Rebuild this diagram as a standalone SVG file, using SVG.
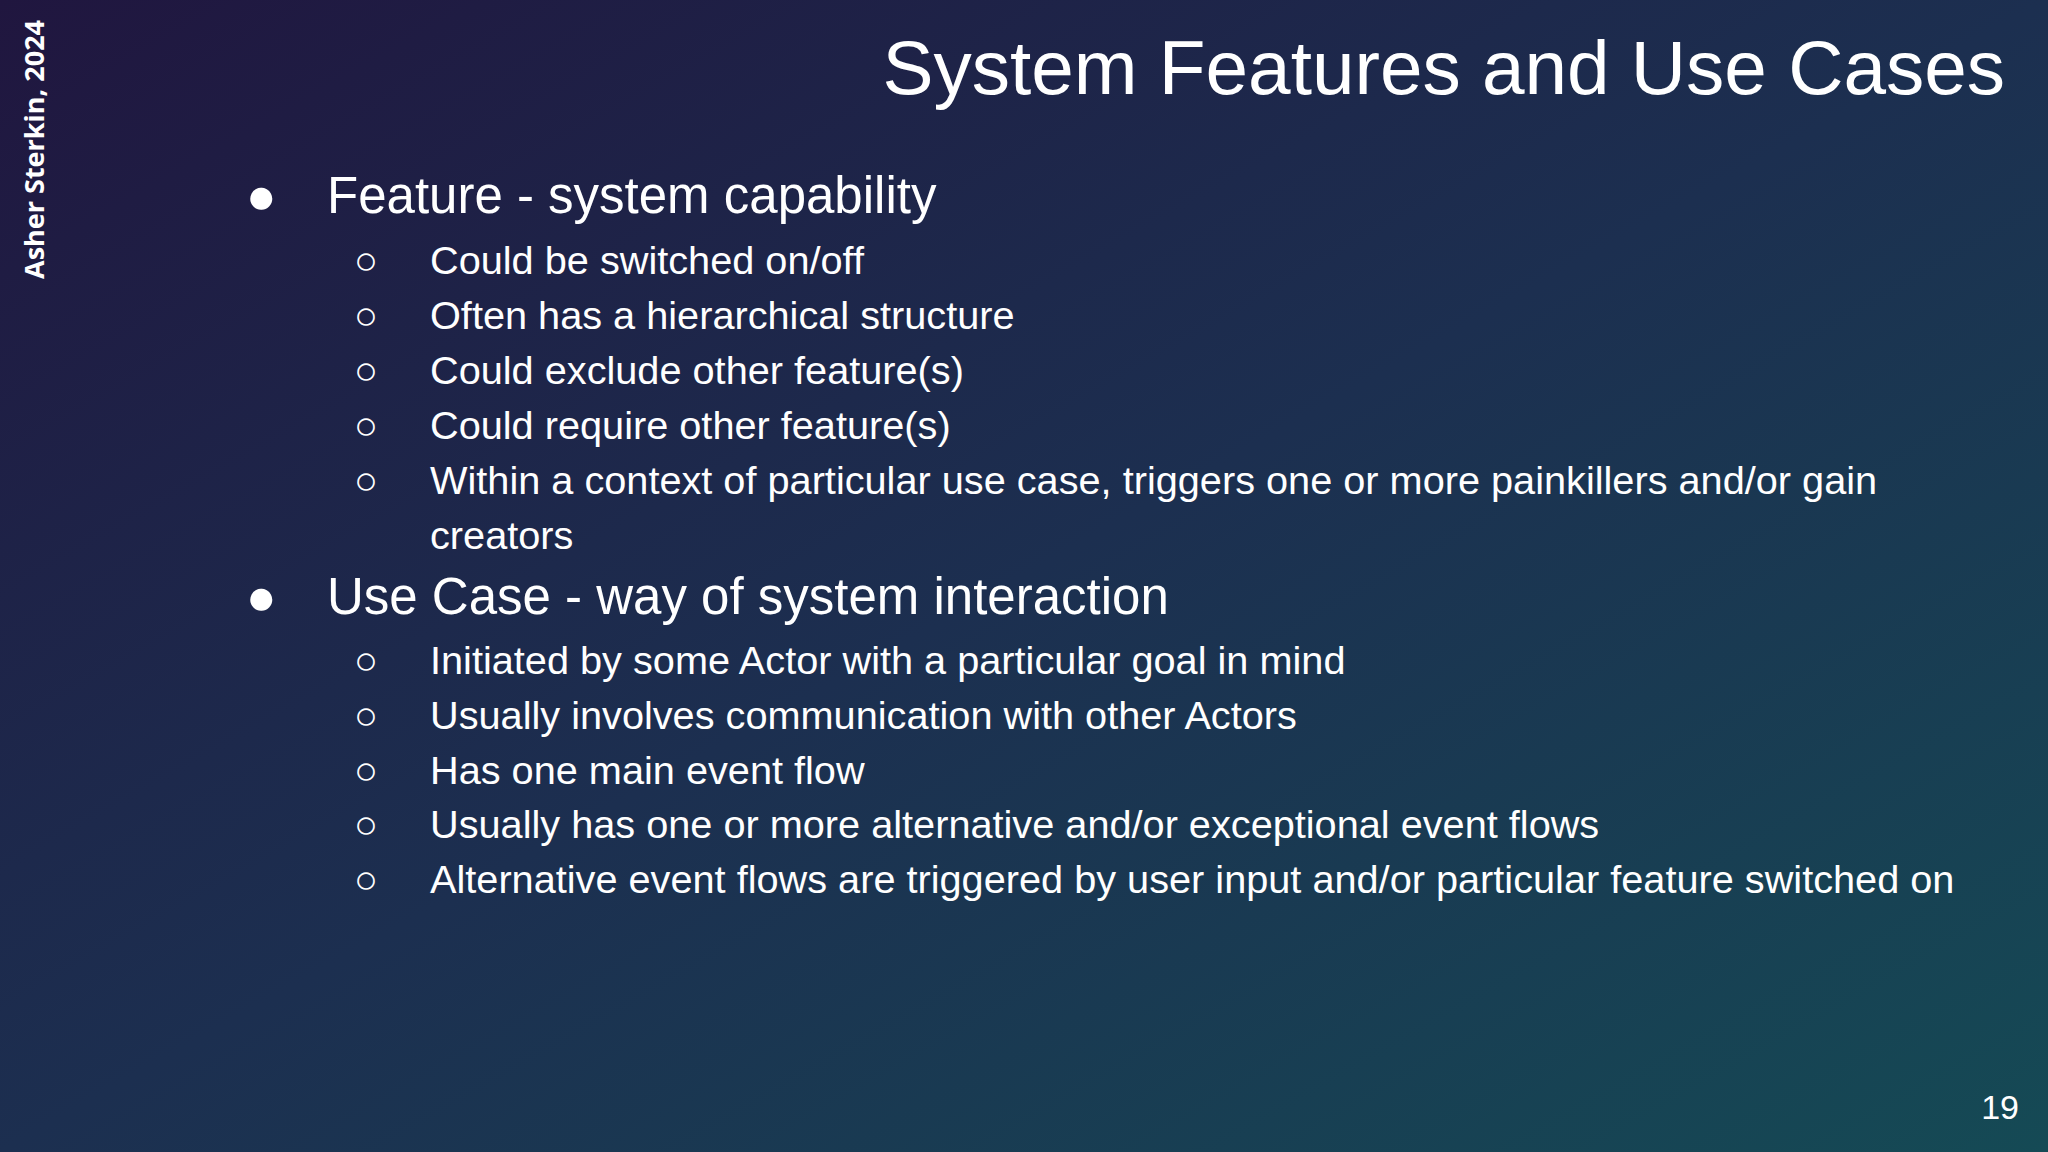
<svg xmlns="http://www.w3.org/2000/svg" width="2048" height="1152" viewBox="0 0 2048 1152">
<defs>
<linearGradient id="bg" x1="0" y1="0" x2="1" y2="1">
<stop offset="0" stop-color="#20163f"/>
<stop offset="0.5" stop-color="#1c2f50"/>
<stop offset="1" stop-color="#154a55"/>
</linearGradient>
<style>
text{fill:#ffffff;font-family:"Liberation Sans",Arial,sans-serif}
.l1{font-size:51px}
.l2{font-size:39.7px}
</style>
</defs>
<rect width="2048" height="1152" fill="url(#bg)"/>
<text x="2005" y="94" font-size="76.5" text-anchor="end">System Features and Use Cases</text>
<text transform="translate(44,279) rotate(-90)" font-size="27" font-weight="bold" style="font-family:'Open Sans','DejaVu Sans',sans-serif">Asher Sterkin, 2024</text>
<g id="list">
<text class="l1" x="246" y="213">●</text>
<text class="l1" x="327" y="213">Feature - system capability</text>
<text class="l2" x="354" y="274">○</text><text class="l2" x="430" y="274">Could be switched on/off</text>
<text class="l2" x="354" y="329">○</text><text class="l2" x="430" y="329">Often has a hierarchical structure</text>
<text class="l2" x="354" y="384">○</text><text class="l2" x="430" y="384">Could exclude other feature(s)</text>
<text class="l2" x="354" y="439">○</text><text class="l2" x="430" y="439">Could require other feature(s)</text>
<text class="l2" x="354" y="494">○</text><text class="l2" x="430" y="494">Within a context of particular use case, triggers one or more painkillers and/or gain</text>
<text class="l2" x="430" y="549">creators</text>
<text class="l1" x="246" y="614">●</text>
<text class="l1" x="327" y="614">Use Case - way of system interaction</text>
<text class="l2" x="354" y="674">○</text><text class="l2" x="430" y="674">Initiated by some Actor with a particular goal in mind</text>
<text class="l2" x="354" y="729">○</text><text class="l2" x="430" y="729">Usually involves communication with other Actors</text>
<text class="l2" x="354" y="784">○</text><text class="l2" x="430" y="784">Has one main event flow</text>
<text class="l2" x="354" y="838">○</text><text class="l2" x="430" y="838">Usually has one or more alternative and/or exceptional event flows</text>
<text class="l2" x="354" y="893">○</text><text class="l2" x="430" y="893">Alternative event flows are triggered by user input and/or particular feature switched on</text>
</g>
<text x="2019" y="1119" font-size="34" text-anchor="end">19</text>
</svg>
